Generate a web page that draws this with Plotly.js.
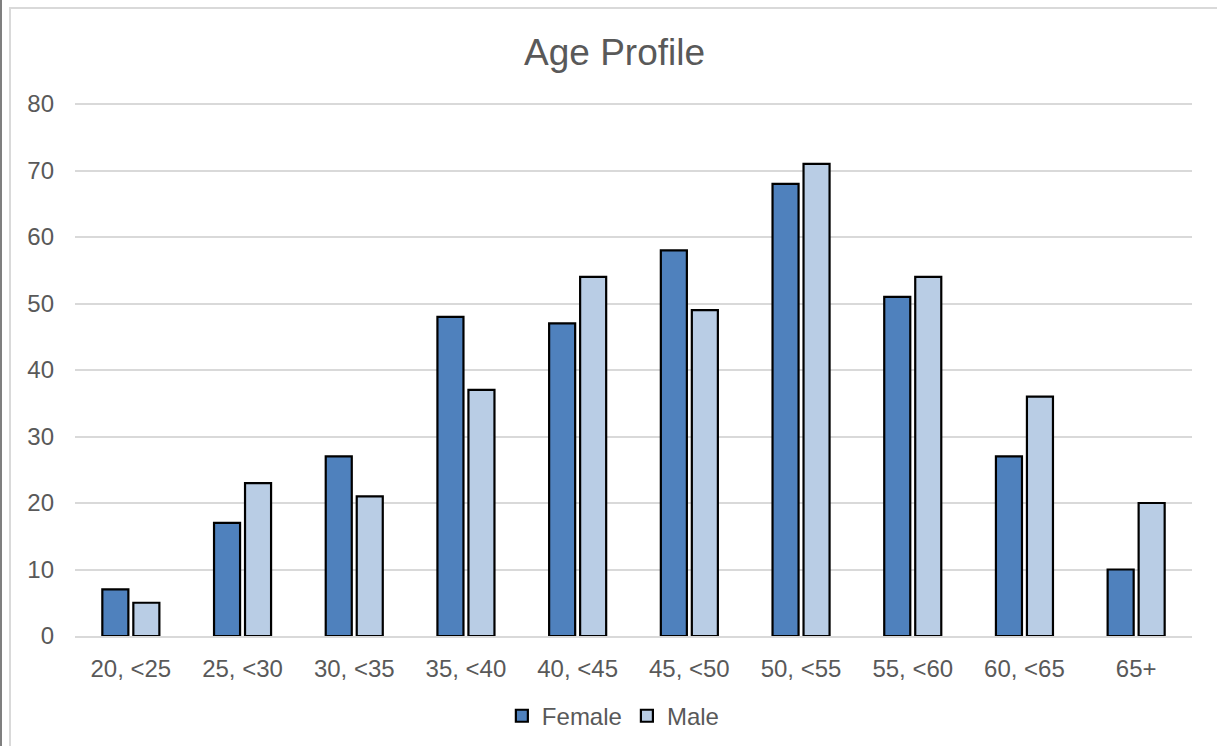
<!DOCTYPE html>
<html>
<head>
<meta charset="utf-8">
<script src="https://cdn.plot.ly/plotly-3.0.1.min.js"></script>
<style>
  html, body { margin: 0; padding: 0; background: #ffffff; overflow: hidden; }
  #wrap { position: relative; width: 1217px; height: 746px; }
  #leftline { position: absolute; left: 0; top: 0; width: 2px; height: 746px; background: #7f7f7f; }
  #frame { position: absolute; left: 9px; top: 7px; width: 1300px; height: 900px; border: 2px solid #d9d9d9; box-sizing: border-box; }
  #chart { position: absolute; left: 0; top: 0; width: 1217px; height: 746px; }
</style>
</head>
<body>
<div id="wrap">
  <div id="leftline"></div>
  <div id="frame"></div>
  <div id="chart"></div>
</div>
<script>
const categories = ["20, <25", "25, <30", "30, <35", "35, <40", "40, <45", "45, <50", "50, <55", "55, <60", "60, <65", "65+"];
const femaleValues = [7, 17, 27, 48, 47, 58, 68, 51, 27, 10];
const maleValues = [5, 23, 21, 37, 54, 49, 71, 54, 36, 20];
const yTickValues = [0, 10, 20, 30, 40, 50, 60, 70, 80];

const font = "Liberation Sans, Arial, sans-serif";
const textColor = "#595959";

const traces = [
  {
    type: "bar", name: "Female", x: categories, y: femaleValues,
    marker: { color: "#4f81bd", line: { color: "#000000", width: 2.2 } },
    hoverinfo: "x+y+name"
  },
  {
    type: "bar", name: "Male", x: categories, y: maleValues,
    marker: { color: "#b9cde5", line: { color: "#000000", width: 2.2 } },
    hoverinfo: "x+y+name"
  }
];

const layout = {
  width: 1217, height: 746,
  paper_bgcolor: "rgba(0,0,0,0)",
  plot_bgcolor: "rgba(0,0,0,0)",
  margin: { l: 75, r: 25, t: 102, b: 110, pad: 0 },
  barmode: "group",
  bargap: 0.445,
  bargroupgap: 0.16,
  font: { family: font, color: textColor, size: 24 },
  title: {
    text: "Age Profile",
    font: { family: font, size: 37, color: textColor },
    x: 0.505, xref: "container", xanchor: "center",
    y: 0.930, yref: "container", yanchor: "middle"
  },
  xaxis: {
    type: "category",
    tickfont: { family: font, size: 24, color: textColor },
    showgrid: false,
    showline: true, linecolor: "#d9d9d9", linewidth: 2,
    ticks: "", ticklabelstandoff: 10,
    zeroline: false
  },
  yaxis: {
    range: [0, 80.3],
    tickvals: yTickValues,
    ticktext: yTickValues.map(String),
    tickfont: { family: font, size: 24, color: textColor },
    showgrid: true, gridcolor: "#d9d9d9", gridwidth: 2,
    zeroline: false, showline: false,
    ticks: "", ticklabelstandoff: 20
  },
  showlegend: true,
  legend: {
    orientation: "h",
    xref: "container", x: 0.504, xanchor: "center",
    yref: "container", y: 0.040, yanchor: "middle",
    font: { family: font, size: 24, color: textColor },
    itemwidth: 30,
    bgcolor: "rgba(0,0,0,0)",
    itemclick: false, itemdoubleclick: false
  }
};

Plotly.newPlot("chart", traces, layout, { displayModeBar: false, staticPlot: true });
</script>
</body>
</html>
